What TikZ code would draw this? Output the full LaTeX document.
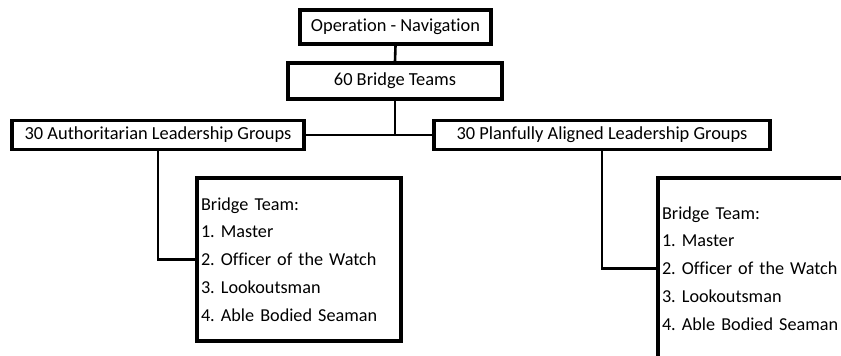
\documentclass[tikz,border=0pt]{standalone}
\usepackage{fontspec}
\setmainfont{Carlito}[Ligatures=NoCommon]
\frenchspacing
\begin{document}
\begin{tikzpicture}[x=1pt,y=-1pt,
  box/.style={draw, line width=3.4pt, fill=white, inner sep=0pt,
    font=\fontsize{18.4}{22}\selectfont},
  team/.style={box, align=left, text width=196pt, inner xsep=4pt,
    font=\fontsize{18.2}{27.8}\selectfont},
  link/.style={line width=2.6pt}]
\useasboundingbox (0,0) rectangle (841,356);
\clip (0,0) rectangle (841,356);

% hierarchy boxes
\node[box, minimum width=191pt, minimum height=34pt] (op) at (395.5,27) {Operation - Navigation};
\node[box, minimum width=214pt, minimum height=36pt] (teams) at (395,81) {60 Bridge Teams};
\node[box, minimum width=292pt, minimum height=29pt] (auth) at (158,135) {30 Authoritarian Leadership Groups};
\node[box, minimum width=336pt, minimum height=29pt] (plan) at (602,135) {30 Planfully Aligned Leadership Groups};

% bridge team compositions
\node[team, minimum height=163pt] (lteam) at (299,259.5)
  {Bridge Team:\\1. Master\\2. Officer of the Watch\\3. Lookoutsman\\4. Able Bodied Seaman};
\node[team, minimum height=181pt] (rteam) at (760,268.5)
  {Bridge Team:\\1. Master\\2. Officer of the Watch\\3. Lookoutsman\\4. Able Bodied Seaman};

% connectors
\draw[link] (op.south) -- (teams.north);
\draw[link] (teams.south) -- (teams.south |- auth.east);
\draw[link] (auth.east) -- (plan.west);
\draw[link] (auth.south) |- (lteam.west);
\draw[link] (plan.south) |- (rteam.west);
\end{tikzpicture}
\end{document}
